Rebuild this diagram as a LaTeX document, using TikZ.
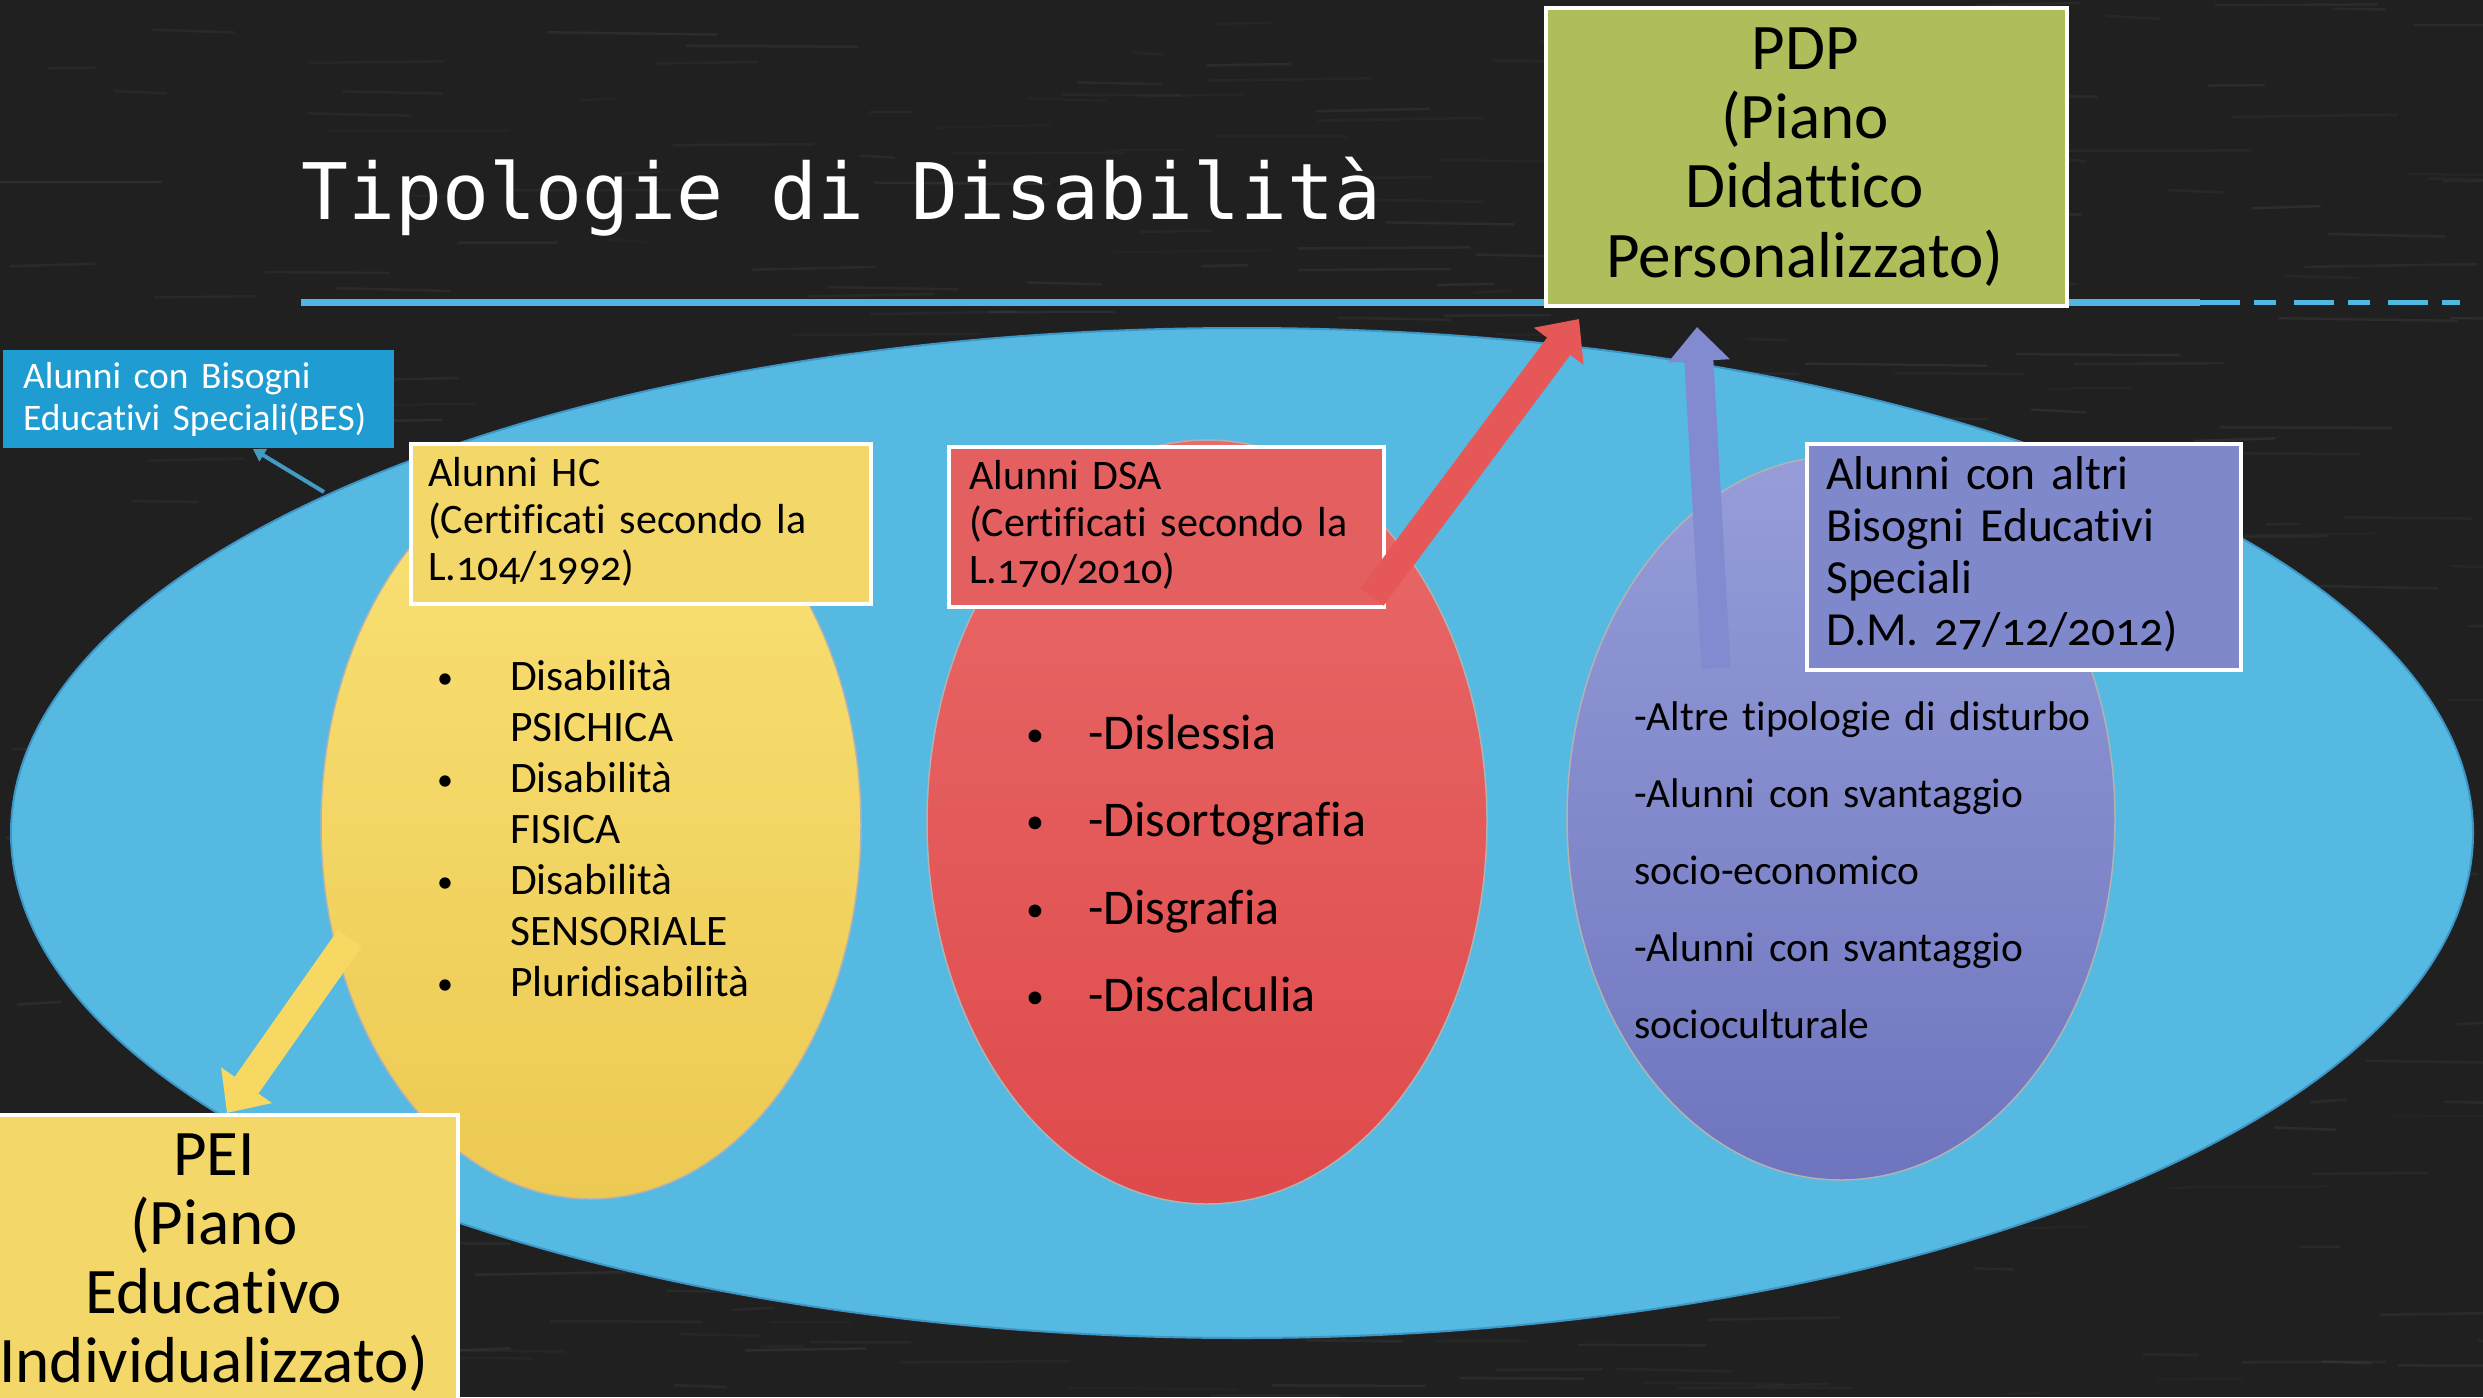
\documentclass[tikz,border=0pt]{standalone}
\usepackage{fontspec}
\setmainfont{Carlito}[Ligatures={NoCommon}]
\newfontfamily\titlefont{DejaVu Sans Mono}
\newfontfamily\osf{Carlito}[Numbers=OldStyle,Ligatures={NoCommon}]
\usetikzlibrary{arrows.meta,shapes.geometric}
\definecolor{bgc}{RGB}{32,32,32}
\definecolor{chalk}{RGB}{120,120,120}
\definecolor{bigblue}{RGB}{86,185,226}
\definecolor{bigblueedge}{RGB}{60,150,200}
\definecolor{besblue}{RGB}{31,156,210}
\definecolor{lineblue}{RGB}{80,182,228}
\definecolor{ytop}{RGB}{250,226,118}
\definecolor{ybot}{RGB}{236,201,82}
\definecolor{ybox}{RGB}{243,215,104}
\definecolor{yarr}{RGB}{246,216,98}
\definecolor{rtop}{RGB}{233,106,106}
\definecolor{rbot}{RGB}{223,74,75}
\definecolor{rbox}{RGB}{227,95,96}
\definecolor{rarr}{RGB}{230,88,88}
\definecolor{ptop}{RGB}{150,157,217}
\definecolor{pbot}{RGB}{110,117,190}
\definecolor{pbox}{RGB}{128,136,204}
\definecolor{parr}{RGB}{130,138,208}
\definecolor{pdpgreen}{RGB}{175,190,90}
\begin{document}
\begin{tikzpicture}[x=1pt,y=-1pt,
  blob/.style={ellipse,inner sep=0pt,draw=black!30,line width=1.5pt},
  framebox/.style={rectangle,inner sep=0pt,draw=white,line width=4pt,anchor=north west},
  lefttext/.style={inner sep=0pt,text width=700pt,align=left,anchor=base west,text=black},
  centertext/.style={inner sep=0pt,text width=700pt,align=center,anchor=base,text=black},
  bulletmark/.style={inner sep=0pt,anchor=base,font=\fontsize{32}{32}\selectfont},
  fatarrow/.style={line width=29pt,-{Triangle[width=60pt,length=34pt]}},
]
% background
\fill[bgc] (0,0) rectangle (2483,1397);
\useasboundingbox (0,0) rectangle (2483,1397);
\clip (0,0) rectangle (2483,1397);
\pgfmathsetseed{7}
\foreach \k in {1,...,420}{
  \pgfmathsetmacro{\xa}{rnd*2483}
  \pgfmathsetmacro{\ya}{rnd*1397}
  \pgfmathsetmacro{\ll}{30+rnd*160}
  \pgfmathsetmacro{\op}{0.05+rnd*0.10}
  \draw[chalk,opacity=\op,line width=2.5pt] (\xa,\ya) -- ++(\ll,rnd*6-3);
}

% title and underline
\node[anchor=base west,inner sep=0pt,text=white,font=\titlefont\fontsize{78}{90}\selectfont] (title) at (301,219) {Tipologie di Disabilità};
\draw[lineblue,line width=7pt] (301,302) -- (2200,302);
\draw[lineblue,line width=5pt,dash pattern=on 40pt off 14pt on 22pt off 18pt] (2200,302) -- (2460,302);

% big ellipse
\node[ellipse,inner sep=0pt,fill=bigblue,draw=bigblueedge,line width=2pt,minimum width=2462pt,minimum height=1010pt] (big) at (1242,833) {};

% BES box and pointer
\node[rectangle,inner sep=0pt,fill=besblue,minimum width=391pt,minimum height=98pt,anchor=north west] (bes) at (3,350) {};
\node[lefttext,text=white,font=\fontsize{37.5}{42}\selectfont] (bestxt) at (23,388) {Alunni con Bisogni\\Educativi Speciali(BES)};
\coordinate (besS) at (324,492);
\coordinate (besT) at (253,449);
\draw[lineblue!85!black,line width=4pt,-{Triangle[width=14pt,length=12pt]}] (besS) -- (besT);

% coloured ellipses
\node[blob,top color=ytop,bottom color=ybot,minimum width=540pt,minimum height=748pt] (hcE) at (591,825) {};
\node[blob,top color=rtop,bottom color=rbot,minimum width=560pt,minimum height=764pt] (dsaE) at (1207,822) {};
\node[blob,top color=ptop,bottom color=pbot,minimum width=548pt,minimum height=724pt] (altE) at (1841,818) {};

% boxes
\node[framebox,fill=ybox,minimum width=460pt,minimum height=160pt] (hcB) at (409,442) {};
\node[framebox,fill=rbox,minimum width=435pt,minimum height=160pt] (dsaB) at (947,445) {};
\node[framebox,fill=pbox,minimum width=434pt,minimum height=226pt] (altB) at (1805,442) {};
\node[framebox,fill=pdpgreen,minimum width=521pt,minimum height=298pt] (pdp) at (1544,6) {};
\node[framebox,fill=ybox,minimum width=462pt,minimum height=300pt] (pei) at (-6,1113) {};

% box texts
\node[lefttext,font=\fontsize{42}{47}\selectfont] (hcT) at (428,486) {Alunni HC\\(Certificati secondo la\\L.{\osf 104/1992})};
\node[lefttext,font=\fontsize{42}{47}\selectfont] (dsaT) at (969,489) {Alunni DSA\\(Certificati secondo la\\L.{\osf 170/2010})};
\node[lefttext,font=\fontsize{47.5}{52}\selectfont] (altT) at (1826,489) {Alunni con altri\\Bisogni Educativi\\Speciali\\D.M. {\osf 27/12/2012})};
\node[centertext,font=\fontsize{65}{69}\selectfont] (pdpT) at (1805,70) {PDP\\(Piano\\Didattico\\Personalizzato)};
\node[centertext,font=\fontsize{65}{69}\selectfont] (peiT) at (214,1175) {PEI\\(Piano\\Educativo\\Individualizzato)};

% lists
\node[lefttext,font=\fontsize{43.5}{51}\selectfont] (hcL) at (510,690) {Disabilità\\PSICHICA\\Disabilità\\FISICA\\Disabilità\\SENSORIALE\\Pluridisabilità};
\foreach \i/\yy in {1/688,2/790,3/892,4/994} \node[bulletmark] (hcb\i) at (445,\yy) {•};
\node[lefttext,font=\fontsize{50}{87.5}\selectfont] (dsaL) at (1088,749) {-Dislessia\\-Disortografia\\-Disgrafia\\-Discalculia};
\foreach \i/\yy in {1/746,2/833.5,3/921,4/1008.5} \node[bulletmark,font=\fontsize{36}{36}\selectfont] (dsab\i) at (1035,\yy) {•};
\node[lefttext,font=\fontsize{41.5}{77}\selectfont] (altL) at (1634,730) {-Altre tipologie di disturbo\\-Alunni con svantaggio\\socio-economico\\-Alunni con svantaggio\\socioculturale};

% arrows
\coordinate (yS) at (350,938);
\draw[fatarrow,yarr] (yS) -- (pei.north);
\coordinate (rS) at (1372,597);
\coordinate (rT) at (1579,319);
\draw[fatarrow,rarr] (rS) -- (rT);
\coordinate (pS) at (1716,668);
\coordinate (pT) at (1697,327);
\draw[fatarrow,parr] (pS) -- (pT);
\end{tikzpicture}
\end{document}
